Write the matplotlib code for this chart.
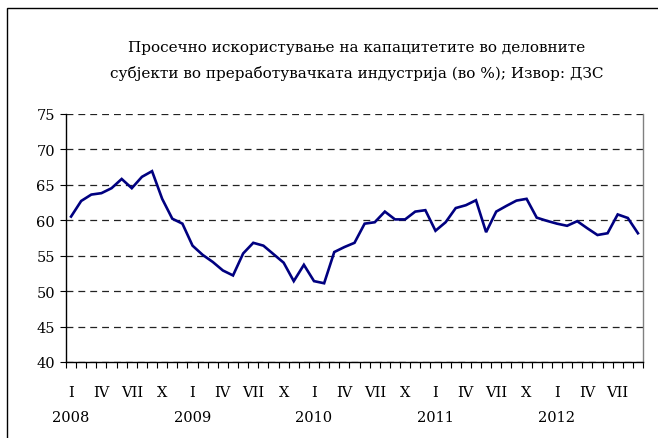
import matplotlib
matplotlib.use("Agg")
import matplotlib.pyplot as plt
import matplotlib.transforms as mtransforms
from matplotlib.patches import Rectangle

plt.rcParams['font.family'] = ['DejaVu Serif']

values = [60.5, 62.7, 63.6, 63.8, 64.5, 65.8, 64.5, 66.1, 66.9, 63.0, 60.2, 59.5,
          56.4, 55.1, 54.1, 52.9, 52.2, 55.3, 56.8, 56.4, 55.2, 54.0, 51.4, 53.7,
          51.4, 51.1, 55.5, 56.2, 56.8, 59.5, 59.7, 61.2, 60.1, 60.1, 61.2, 61.4,
          58.5, 59.7, 61.7, 62.1, 62.8, 58.3, 61.2, 62.0, 62.75, 63.0, 60.35, 59.9,
          59.5, 59.2, 59.85, 58.85, 57.9, 58.15, 60.8, 60.3, 58.15]
month_labels = ["I", "IV", "VII", "X"]
years = ["2008", "2009", "2010", "2011", "2012"]
yticks = [40, 45, 50, 55, 60, 65, 70, 75]
title = ("Просечно искористување на капацитетите во деловните\n"
         "субјекти во преработувачката индустрија (во %); Извор: ДЗС")

fig = plt.figure(figsize=(6.58, 4.39), dpi=100)
ax = fig.add_axes([66/658, 1-363/439, (643-66)/658, (363-114.7)/439])

x = list(range(len(values)))
ax.plot(x, values, color='#000080', lw=1.9, solid_joinstyle='miter', zorder=3)

ax.set_xlim(-0.5, len(values)-0.5)
ax.set_ylim(40, 75)
ax.set_yticks(yticks)
ax.set_yticklabels([str(t) for t in yticks], fontsize=10.5)
ax.yaxis.grid(True, linestyle=(0, (5.5, 4)), color='#222222', lw=0.9)
ax.set_axisbelow(True)

ax.set_xticks([i - 0.5 for i in range(len(values)+1)])
ax.set_xticklabels([])
ax.tick_params(axis='x', length=4, width=0.8, direction='out', color='black')
ax.tick_params(axis='y', length=4, width=0.8, direction='out', pad=4, color='black')

for s in ['left', 'bottom']:
    ax.spines[s].set_color('black')
    ax.spines[s].set_linewidth(1.0)
ax.spines['right'].set_color('#808080')
ax.spines['right'].set_linewidth(1.0)
ax.spines['top'].set_visible(False)

trans = mtransforms.blended_transform_factory(ax.transData, fig.transFigure)
for i in range(len(values)):
    if i % 3 == 0:
        ax.text(i, 1-393/439, month_labels[(i % 12)//3], transform=trans,
                ha='center', va='center', fontsize=10.5)
    if i % 12 == 0:
        ax.text(i, 1-418/439, years[i//12], transform=trans,
                ha='center', va='center', fontsize=10.5)

fig.text(357/658, 1-61/439, title, ha='center', va='center', fontsize=11,
         linespacing=1.85)

fig.patches.append(Rectangle((7/658, -0.1), 1.1, 1-9/439+0.1,
                             transform=fig.transFigure, fill=False,
                             edgecolor='black', lw=1.0))

fig.savefig('out.png', dpi=100)
